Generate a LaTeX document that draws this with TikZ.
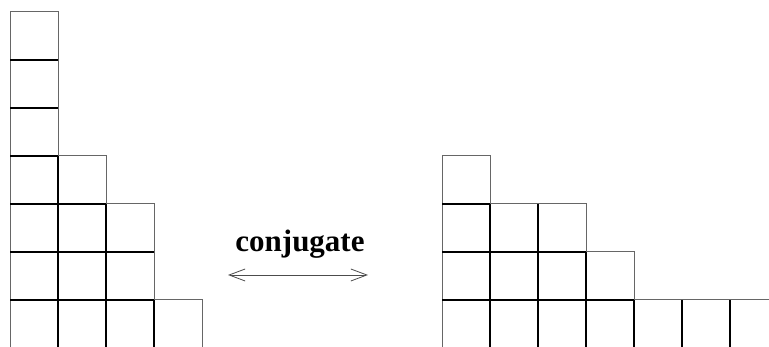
\documentclass[tikz,border=0pt]{standalone}
\usepackage{fontspec}
\setmainfont{Liberation Serif}
\usetikzlibrary{arrows.meta}

% draw a Young diagram: #1 = left x, #2 = list of row lengths from the bottom
\newcommand{\youngdiagram}[2]{%
  \foreach \len [count=\r from 0] in {#2} {
    \foreach \c in {1,...,\len} {
      \pgfmathsetmacro{\xl}{#1+48*(\c-1)}
      \pgfmathsetmacro{\yb}{-1+48*\r}
      \draw[outeredge] (\xl,\yb) rectangle ++(48,48);
    }
  }
  \foreach \len [count=\r from 0] in {#2} {
    \foreach \c in {1,...,\len} {
      \pgfmathsetmacro{\xl}{#1+48*(\c-1)}
      \pgfmathsetmacro{\yb}{-1+48*\r}
      \ifnum\c>1 \draw[inneredge] (\xl,\yb) -- ++(0,48); \fi
      \ifnum\r>0 \draw[inneredge] (\xl,\yb) -- ++(48,0); \fi
    }
  }%
}

\begin{document}
\begin{tikzpicture}[x=1pt,y=1pt,
  outeredge/.style={draw=black!60, line width=1pt},
  inneredge/.style={draw=black, line width=1.4pt},
  label/.style={font=\fontsize{31}{33}\selectfont\bfseries, inner sep=0pt, anchor=base},
  conj/.style={draw=black!70, line width=0.8pt,
    {Straight Barb[length=16pt,width=12pt]}-{Straight Barb[length=16pt,width=12pt]}}]
  \useasboundingbox (0,0) rectangle (769,347);
  \begin{scope}
    \clip (0,0) rectangle (769,347);
    % partition on the left and its conjugate on the right
    \youngdiagram{10}{4,3,3,2,1,1,1}
    \youngdiagram{442}{7,4,3,1}
  \end{scope}
  \node[label] (name) at (300,95) {conjugate};
  \coordinate (arrowL) at (228,72);
  \coordinate (arrowR) at (368,72);
  \draw[conj] (arrowL) -- (arrowR);
\end{tikzpicture}
\end{document}
